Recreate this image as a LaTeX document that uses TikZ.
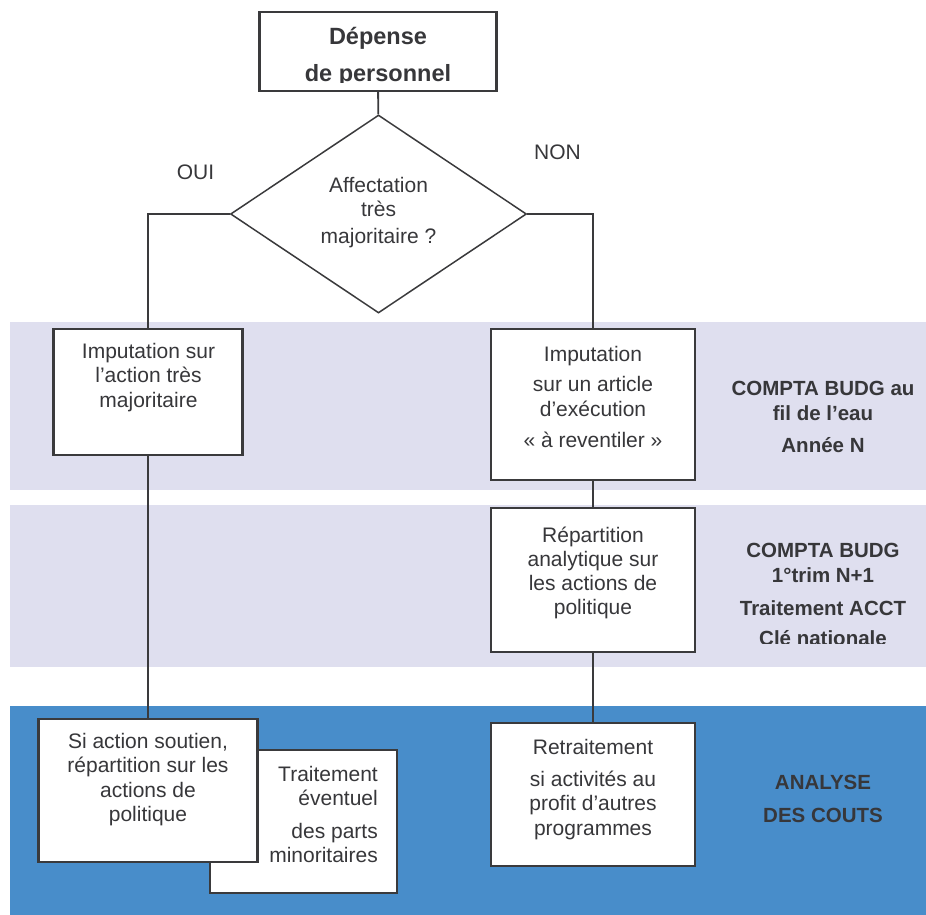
\documentclass[tikz,border=0pt]{standalone}
\usepackage{fontspec}
\setmainfont{Liberation Sans}
\usepackage{tikz}
\usetikzlibrary{positioning,shapes.geometric}
\tikzstyle{chart} = [x = 1pt, y = -1pt]
\definecolor{bandColor}{RGB}{223,223,239}
\definecolor{coutColor}{RGB}{72,141,202}
\definecolor{lineColor}{RGB}{58,58,60}
\definecolor{textColor}{RGB}{55,55,58}
\tikzstyle{boxStyle} = [draw=lineColor, fill=white, line width=2.2pt, inner sep=0pt]
\tikzstyle{decisionStyle} = [diamond, draw=lineColor, line width=1.5pt, inner sep=0pt, aspect=1.5]
\tikzstyle{connector} = [draw=lineColor, line width=1.8pt]
\tikzstyle{boxText} = [anchor=north, align=center, inner sep=0pt, text=textColor, font=\fontsize{21}{24.5}\selectfont]
\tikzstyle{bandText} = [anchor=north, align=center, inner sep=0pt, text=textColor, font=\bfseries\fontsize{20.5}{24.5}\selectfont]
\tikzstyle{answerText} = [anchor=base, inner sep=0pt, text=textColor, font=\fontsize{21}{24.5}\selectfont]
\newcommand{\band}[3]{\fill [#3] (10,#1) rectangle (926,#2);}

\begin{document}
\begin{tikzpicture}[chart]
  \useasboundingbox (0,0) rectangle (926,915);
  % bandes de fond
  \band{322}{490}{bandColor}
  \band{505}{667}{bandColor}
  \band{706}{915}{coutColor}

  % noeuds
  \node [boxStyle, minimum width=237, minimum height=79] (depense) at (378,51.5) {};
  \begin{scope}
    \clip (259,12) rectangle (496,83);
    \node [boxText, font=\bfseries\fontsize{23.5}{37}\selectfont] (depenseText) at (378,27) {Dépense\\de personnel};
  \end{scope}
  \node [decisionStyle, minimum width=296, minimum height=198] (affectation) at (378.5,214) {};
  \node [boxText] (affectationText) at (378.5,177) {Affectation\\très\\[2pt]majoritaire ?};
  \node [answerText] (oui) at (195.5,179) {OUI};
  \node [answerText] (non) at (557.5,160) {NON};

  \node [boxStyle, minimum width=189, minimum height=126] (imputationAction) at (148,392) {};
  \node [boxText] (imputationActionText) at (148.5,343) {Imputation sur\\l’action très\\majoritaire};

  \node [boxStyle, minimum width=204, minimum height=151] (imputationArticle) at (593,404.5) {};
  \node [boxText] (imputationArticleText) at (593,346) {Imputation\\[6pt]sur un article\\d’exécution\\[7pt]« à reventiler »};

  \node [boxStyle, minimum width=204, minimum height=144] (repartition) at (593,580) {};
  \node [boxText, font=\fontsize{21}{24}\selectfont] (repartitionText) at (593,527) {Répartition\\analytique sur\\les actions de\\politique};

  \node [boxStyle, minimum width=187, minimum height=143] (traitement) at (303.5,821.5) {};
  \node [boxText, anchor=north east, align=right] (traitementText) at (378,766) {Traitement\\éventuel\\[8pt]des parts\\minoritaires};
  \node [boxStyle, minimum width=219, minimum height=143] (soutien) at (148,790.5) {};
  \node [boxText] (soutienText) at (148,733) {Si action soutien,\\répartition sur les\\actions de\\politique};

  \node [boxStyle, minimum width=204, minimum height=143] (retraitement) at (593,794.5) {};
  \node [boxText] (retraitementText) at (593,739) {Retraitement\\[7.5pt]si activités au\\profit d’autres\\programmes};

  % libelles des bandes
  \node [bandText] (filEau) at (823,381) {COMPTA BUDG au\\fil de l’eau\\[8pt]Année N};
  \begin{scope}
    \clip (700,505) rectangle (926,643);
    \node [bandText] (trimestre) at (823,543) {COMPTA BUDG\\1°trim N+1\\[8.5pt]Traitement ACCT\\[6pt]Clé nationale};
  \end{scope}
  \node [bandText] (analyse) at (823,775) {ANALYSE\\[8pt]DES COUTS};

  % liaisons
  \draw [connector] (depense) -- (affectation);
  \draw [connector] (affectation.west) -| (imputationAction);
  \draw [connector] (affectation.east) -| (imputationArticle);
  \draw [connector] (imputationAction) -- (soutien);
  \draw [connector] (imputationArticle) -- (repartition);
  \draw [connector] (repartition) -- (retraitement);
\end{tikzpicture}
\end{document}
